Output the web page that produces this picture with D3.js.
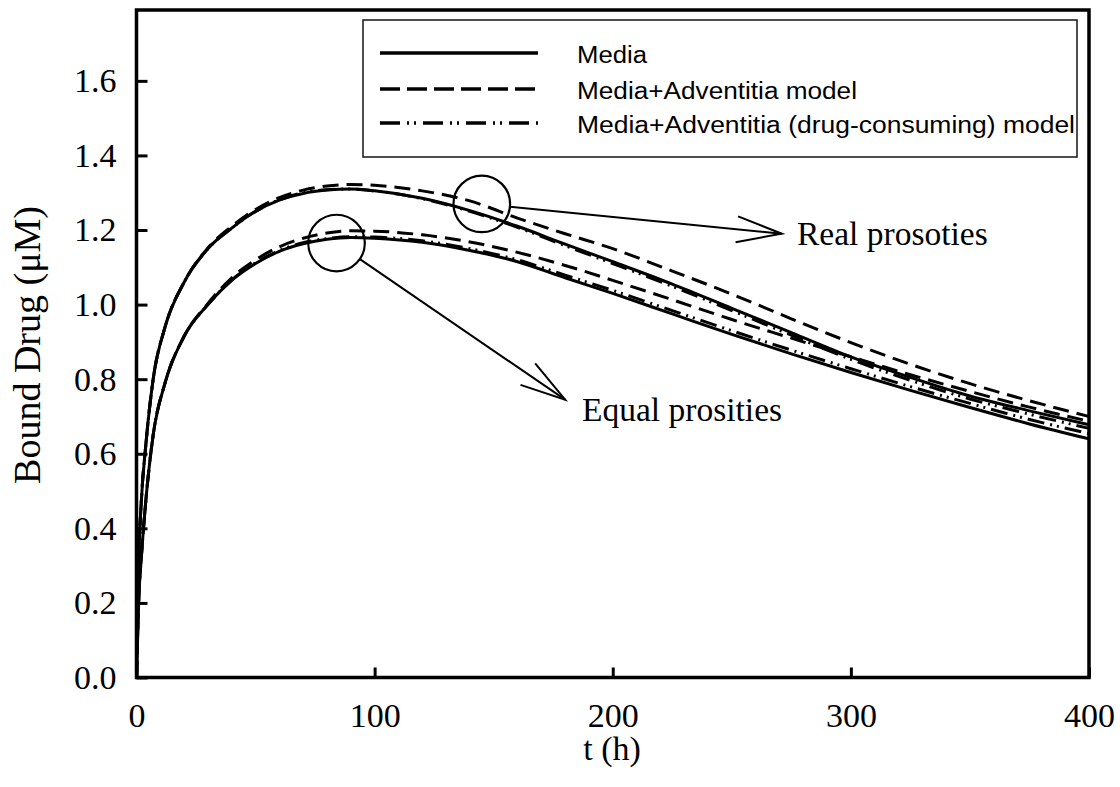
<!DOCTYPE html>
<html>
<head>
<meta charset="utf-8">
<script src="https://cdn.jsdelivr.net/npm/d3@7"></script>
<style>
  body { margin: 0; background: #fff; }
  svg { display: block; }
</style>
</head>
<body>
<script>
// time points (h)
const tHours = [0, 1, 2, 4, 7, 12, 20, 30, 40, 50, 60, 70, 80, 90, 100, 120, 140, 160, 180, 200, 225, 250, 275, 300, 325, 350, 375, 400]

// real prosities group
const realMedia = [0, 0.33, 0.47, 0.63, 0.80, 0.94, 1.06, 1.15, 1.205, 1.25, 1.28, 1.298, 1.307, 1.31, 1.305, 1.285, 1.252, 1.21, 1.162, 1.115, 1.055, 0.99, 0.925, 0.86, 0.805, 0.755, 0.715, 0.678]
const realAdv = [0, 0.33, 0.47, 0.63, 0.80, 0.94, 1.06, 1.152, 1.21, 1.255, 1.287, 1.307, 1.318, 1.322, 1.32, 1.305, 1.278, 1.232, 1.19, 1.15, 1.09, 1.028, 0.962, 0.898, 0.84, 0.788, 0.742, 0.70]
const realAdvCons = [0, 0.33, 0.47, 0.63, 0.80, 0.94, 1.06, 1.15, 1.205, 1.25, 1.281, 1.30, 1.308, 1.31, 1.305, 1.284, 1.25, 1.207, 1.158, 1.11, 1.049, 0.984, 0.918, 0.853, 0.797, 0.747, 0.706, 0.668]

// equal prosities group
const equalMedia = [0, 0.22, 0.32, 0.48, 0.65, 0.79, 0.915, 1.0, 1.065, 1.11, 1.143, 1.163, 1.175, 1.18, 1.178, 1.167, 1.145, 1.115, 1.072, 1.03, 0.975, 0.92, 0.868, 0.818, 0.77, 0.724, 0.68, 0.64]
const equalAdv = [0, 0.22, 0.32, 0.48, 0.65, 0.79, 0.915, 1.003, 1.072, 1.12, 1.155, 1.178, 1.192, 1.198, 1.197, 1.187, 1.168, 1.14, 1.105, 1.065, 1.013, 0.96, 0.91, 0.86, 0.812, 0.767, 0.725, 0.687]
const equalAdvCons = [0, 0.22, 0.32, 0.48, 0.65, 0.79, 0.915, 1.0, 1.066, 1.112, 1.145, 1.166, 1.177, 1.182, 1.181, 1.171, 1.15, 1.12, 1.079, 1.038, 0.984, 0.93, 0.878, 0.828, 0.78, 0.735, 0.692, 0.654]

const xTicks = [0, 100, 200, 300, 400]
const yTicks = [0, 0.2, 0.4, 0.6, 0.8, 1.0, 1.2, 1.4, 1.6]
const legendLabels = ['Media', 'Media+Adventitia model', 'Media+Adventitia (drug-consuming) model']

const W = 1120, H = 787
const plotLeft = 136.5, plotRight = 1089, plotTop = 10, plotBottom = 677.5
const serif = '"Liberation Serif", "Times New Roman", serif'
const sans = '"Liberation Sans", Arial, sans-serif'

// dash styles per model
const dashes = ['none', '16,8', '17,6,2,5,2,6']

const svg = d3.select('body').append('svg')
  .attr('width', W)
  .attr('height', H)

svg.append('rect').attr('width', W).attr('height', H).attr('fill', '#fff')

const x = d3.scaleLinear().domain([0, 400]).range([plotLeft, plotRight])
const y = d3.scaleLinear().domain([0, 1.79]).range([plotBottom, plotTop])

svg.append('defs').append('clipPath').attr('id', 'plot')
  .append('rect')
  .attr('x', plotLeft).attr('y', plotTop)
  .attr('width', plotRight - plotLeft).attr('height', plotBottom - plotTop)

// series
const series = [
  { values: realMedia, dash: dashes[0] },
  { values: realAdv, dash: dashes[1] },
  { values: realAdvCons, dash: dashes[2] },
  { values: equalMedia, dash: dashes[0] },
  { values: equalAdv, dash: dashes[1] },
  { values: equalAdvCons, dash: dashes[2] }
]

const line = d3.line()
  .x(function (d, i) { return x(tHours[i]) })
  .y(function (d) { return y(d) })
  .curve(d3.curveMonotoneX)

svg.append('g')
  .attr('clip-path', 'url(#plot)')
  .selectAll('path')
  .data(series)
  .enter()
  .append('path')
  .attr('d', function (d) { return line(d.values) })
  .attr('fill', 'none')
  .attr('stroke', '#000')
  .attr('stroke-width', 3)
  .attr('stroke-dasharray', function (d) { return d.dash })

// frame, drawn as a closed path
svg.append('path')
  .attr('d', 'M' + plotLeft + ',' + plotTop + 'H' + plotRight + 'V' + plotBottom + 'H' + plotLeft + 'Z')
  .attr('fill', 'none')
  .style('stroke', '#000')
  .style('stroke-width', '3.5px')

// axes, ticks inward
const yAxis = svg.append('g')
  .attr('transform', 'translate(' + plotLeft + ',0)')
  .call(d3.axisLeft(y).tickValues(yTicks).tickSizeInner(-11).tickSizeOuter(0)
    .tickPadding(20).tickFormat(d3.format('.1f')))
yAxis.select('.domain').remove()

const xAxis = svg.append('g')
  .attr('transform', 'translate(0,' + plotBottom + ')')
  .call(d3.axisBottom(x).tickValues(xTicks).tickSizeInner(-10).tickSizeOuter(0)
    .tickPadding(25))
xAxis.select('.domain').remove()

svg.selectAll('.tick line').style('stroke', '#000').style('stroke-width', '3px')
svg.selectAll('.tick text')
  .attr('fill', '#000')
  .style('font-family', serif)
  .style('font-size', '34px')

// legend
const legend = svg.append('g')
legend.append('rect')
  .attr('x', 363).attr('y', 20)
  .attr('width', 714).attr('height', 137)
  .attr('fill', '#fff')
  .style('stroke', '#222')
  .style('stroke-width', '1.6px')

const legendY = [53, 89, 123]
const legendWidths = [70, 280, 498]
legendLabels.forEach(function (label, i) {
  legend.append('line')
    .attr('x1', 380).attr('x2', 538)
    .attr('y1', legendY[i]).attr('y2', legendY[i])
    .attr('stroke', '#000')
    .attr('stroke-width', 3.5)
    .attr('stroke-dasharray', i === 1 ? '20,7' : i === 2 ? '20,7,2,5,2,7' : 'none')
  legend.append('text')
    .attr('x', 577).attr('y', legendY[i] + 10)
    .attr('textLength', legendWidths[i])
    .attr('lengthAdjust', 'spacingAndGlyphs')
    .style('font-family', sans)
    .style('font-size', '23px')
    .text(label)
})

// annotations: circle, line and open arrow head
const notes = [
  { cx: 145, cy: 1.27, tipX: 271, tipY: 1.19, text: 'Real prosoties', tx: 797, ty: 245 },
  { cx: 84, cy: 1.165, tipX: 180, tipY: 0.745, text: 'Equal prosities', tx: 582, ty: 421 }
]
const r = 28.3
notes.forEach(function (n) {
  const cx = x(n.cx), cy = y(n.cy)
  const tx = x(n.tipX), ty = y(n.tipY)
  const ang = Math.atan2(ty - cy, tx - cx)
  const sx = cx + r * Math.cos(ang), sy = cy + r * Math.sin(ang)
  svg.append('circle')
    .attr('cx', cx).attr('cy', cy).attr('r', r)
    .attr('fill', 'none').attr('stroke', '#000').attr('stroke-width', 2.2)
  svg.append('line')
    .attr('x1', sx).attr('y1', sy).attr('x2', tx).attr('y2', ty)
    .attr('stroke', '#000').attr('stroke-width', 2)
  const back = ang + Math.PI, spread = 16 * Math.PI / 180, len = 47
  const p1 = [tx + len * Math.cos(back + spread), ty + len * Math.sin(back + spread)]
  const p2 = [tx + len * Math.cos(back - spread), ty + len * Math.sin(back - spread)]
  svg.append('path')
    .attr('d', 'M' + p1 + 'L' + tx + ',' + ty + 'L' + p2)
    .attr('fill', 'none').attr('stroke', '#000').attr('stroke-width', 2)
  svg.append('text')
    .attr('x', n.tx).attr('y', n.ty)
    .style('font-family', serif)
    .style('font-size', '33.5px')
    .text(n.text)
})

// axis titles
svg.append('text')
  .attr('transform', 'translate(40,345) rotate(-90)')
  .attr('text-anchor', 'middle')
  .style('font-family', serif)
  .style('font-size', '38px')
  .text('Bound Drug (μM)')

svg.append('text')
  .attr('x', 612).attr('y', 760)
  .attr('text-anchor', 'middle')
  .style('font-family', serif)
  .style('font-size', '34px')
  .text('t (h)')
</script>
</body>
</html>
